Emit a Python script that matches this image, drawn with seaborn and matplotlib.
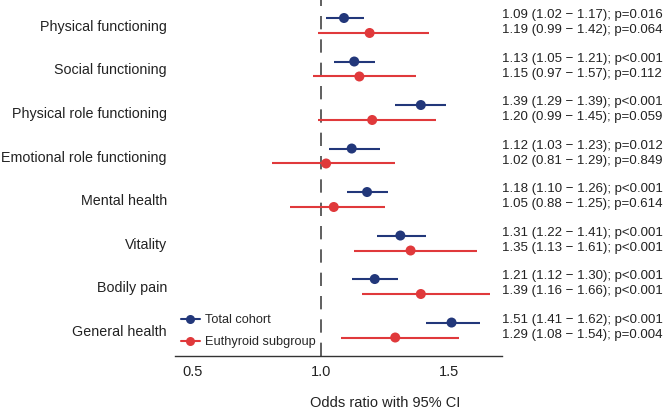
import numpy as np
import pandas as pd
import matplotlib
matplotlib.use("Agg")
import matplotlib.pyplot as plt
from matplotlib.lines import Line2D
from matplotlib import transforms
import seaborn as sns

categories = ["Physical functioning", "Social functioning", "Physical role functioning",
              "Emotional role functioning", "Mental health", "Vitality", "Bodily pain",
              "General health"]
total_or = [1.09, 1.13, 1.39, 1.12, 1.18, 1.31, 1.21, 1.51]
total_lo = [1.02, 1.05, 1.29, 1.03, 1.10, 1.22, 1.12, 1.41]
total_hi = [1.17, 1.21, 1.49, 1.23, 1.26, 1.41, 1.30, 1.62]
euth_or = [1.19, 1.15, 1.20, 1.02, 1.05, 1.35, 1.39, 1.29]
euth_lo = [0.99, 0.97, 0.99, 0.81, 0.88, 1.13, 1.16, 1.08]
euth_hi = [1.42, 1.37, 1.45, 1.29, 1.25, 1.61, 1.66, 1.54]
total_text = ["1.09 (1.02 \u2212 1.17); p=0.016", "1.13 (1.05 \u2212 1.21); p<0.001",
              "1.39 (1.29 \u2212 1.39); p<0.001", "1.12 (1.03 \u2212 1.23); p=0.012",
              "1.18 (1.10 \u2212 1.26); p<0.001", "1.31 (1.22 \u2212 1.41); p<0.001",
              "1.21 (1.12 \u2212 1.30); p<0.001", "1.51 (1.41 \u2212 1.62); p<0.001"]
euth_text = ["1.19 (0.99 \u2212 1.42); p=0.064", "1.15 (0.97 \u2212 1.57); p=0.112",
             "1.20 (0.99 \u2212 1.45); p=0.059", "1.02 (0.81 \u2212 1.29); p=0.849",
             "1.05 (0.88 \u2212 1.25); p=0.614", "1.35 (1.13 \u2212 1.61); p<0.001",
             "1.39 (1.16 \u2212 1.66); p<0.001", "1.29 (1.08 \u2212 1.54); p=0.004"]
groups = ["Total cohort", "Euthyroid subgroup"]
xticks = [0.5, 1.0, 1.5]

sns.set_theme(style="white")
plt.rcParams['font.family'] = ['Liberation Sans', 'DejaVu Sans']

BLUE = "#22377A"
RED = "#E0393B"
W, H = 667, 413
fig = plt.figure(figsize=(W / 100, H / 100), dpi=100)
ax = fig.add_axes([175 / W, 1 - 355.7 / H, (502 - 175) / W, 355.7 / H])

off = 0.172
idx = np.arange(len(categories))
df = pd.DataFrame({
    "y": np.concatenate([idx - off, idx + off]),
    "or": total_or + euth_or,
    "lo": total_lo + euth_lo,
    "hi": total_hi + euth_hi,
    "group": [groups[0]] * len(categories) + [groups[1]] * len(categories),
})
palette = {groups[0]: BLUE, groups[1]: RED}

ax.axvline(1.0, color="#444444", lw=1.2, dashes=(8, 6), zorder=1)
for g in groups:
    sub = df[df["group"] == g]
    ax.hlines(sub["y"], sub["lo"], sub["hi"], color=palette[g], lw=1.5, zorder=2)
sns.scatterplot(data=df, x="or", y="y", hue="group", palette=palette, s=52,
                edgecolor="none", ax=ax, legend=False, zorder=3)

ax.set_xlim(0.43, 1.707)
ax.set_ylim(7.59, -0.586)
ax.set_xticks(xticks)
ax.set_xticklabels([f"{v:.1f}" for v in xticks], fontsize=10.5, color="#222222")
ax.set_yticks(idx)
ax.set_yticklabels(categories, fontsize=10.3, color="#222222")
ax.tick_params(axis="x", length=0, pad=7)
ax.tick_params(axis="y", length=0, pad=5.8)
ax.set_xlabel("")
ax.set_ylabel("")
for s in ["top", "right", "left"]:
    ax.spines[s].set_visible(False)
ax.spines["bottom"].set_color("#333333")
ax.spines["bottom"].set_linewidth(1.0)

trans = transforms.blended_transform_factory(ax.transAxes, ax.transData)
for i in idx:
    ax.text(1.0, i - off - 0.06, total_text[i], transform=trans, ha="left", va="center",
            fontsize=9.55, color="#222222", clip_on=False)
    ax.text(1.0, i + off - 0.06, euth_text[i], transform=trans, ha="left", va="center",
            fontsize=9.55, color="#222222", clip_on=False)

fig.text(385 / W, 1 - 403 / H, "Odds ratio with 95% CI", ha="center", va="center",
         fontsize=10.5, color="#222222")

handles = [Line2D([0], [0], color=palette[g], lw=1.5, marker="o", markersize=6.5,
                  markeredgewidth=0) for g in groups]
fig.legend(handles, groups, loc="center left",
           bbox_to_anchor=(181 / W, 1 - 331 / H), frameon=False, fontsize=9.2,
           handlelength=1.45, handletextpad=0.4, labelspacing=0.78, borderpad=0,
           borderaxespad=0)

fig.savefig("out.png", dpi=100)
